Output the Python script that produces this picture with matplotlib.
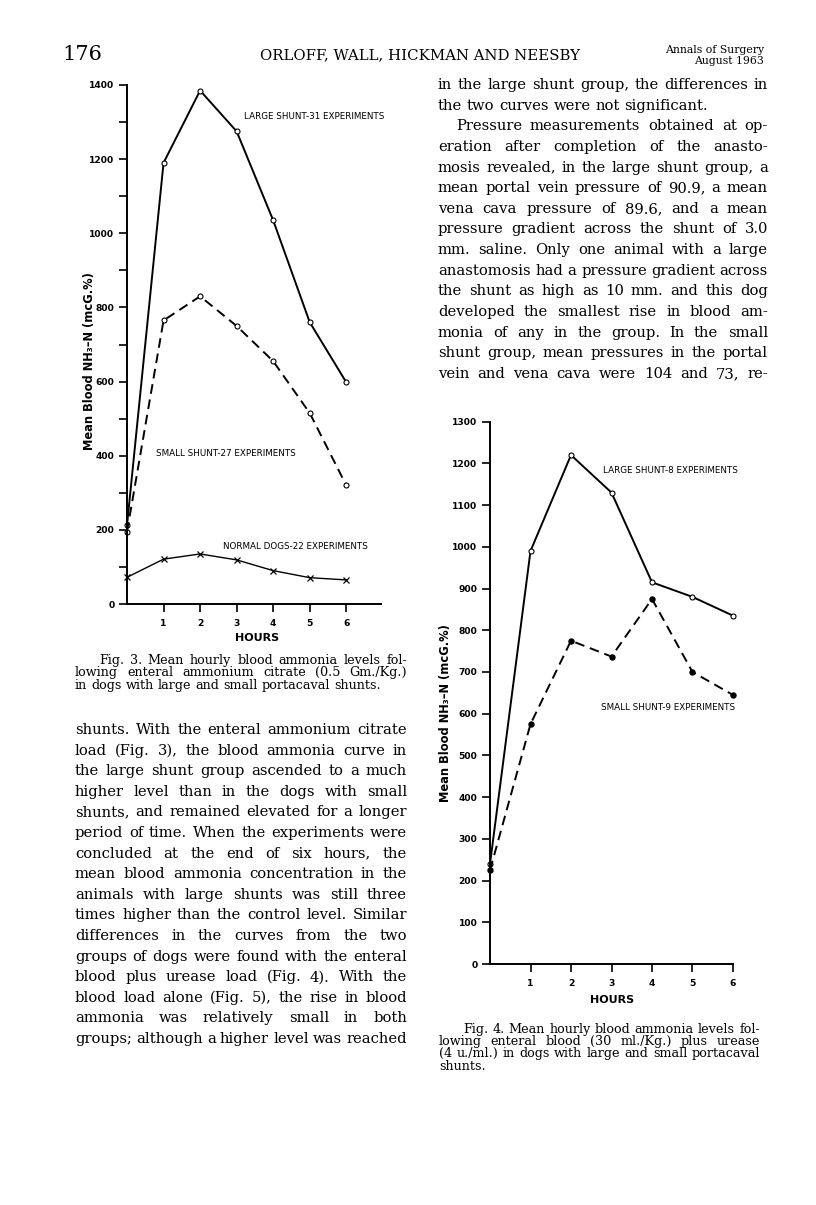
import matplotlib
matplotlib.use("Agg")
import matplotlib.pyplot as plt
from matplotlib.ticker import MultipleLocator

# ---- values ----
hours = [0, 1, 2, 3, 4, 5, 6]
hour_ticks = [1, 2, 3, 4, 5, 6]

# Fig. 3 - enteral ammonium citrate
f3_large = [212, 1190, 1385, 1275, 1035, 760, 598]
f3_small = [195, 765, 830, 750, 655, 515, 320]
f3_normal = [72, 121, 135, 119, 90, 71, 65]
f3_yticks = [0, 200, 400, 600, 800, 1000, 1200, 1400]

# Fig. 4 - enteral blood plus urease
f4_large = [240, 990, 1220, 1130, 915, 880, 835]
f4_small = [225, 575, 775, 737, 875, 700, 645]
f4_yticks = [0, 100, 200, 300, 400, 500, 600, 700, 800, 900, 1000, 1100, 1200, 1300]

ylabel = "Mean Blood NH\u2083\u2013N (mcG.%)"

# ---- page text ----
right_col = [
    "in the large shunt group, the differences in",
    "the two curves were not significant.",
    "Pressure measurements obtained at op-",
    "eration after completion of the anasto-",
    "mosis revealed, in the large shunt group, a",
    "mean portal vein pressure of 90.9, a mean",
    "vena cava pressure of 89.6, and a mean",
    "pressure gradient across the shunt of 3.0",
    "mm. saline. Only one animal with a large",
    "anastomosis had a pressure gradient across",
    "the shunt as high as 10 mm. and this dog",
    "developed the smallest rise in blood am-",
    "monia of any in the group. In the small",
    "shunt group, mean pressures in the portal",
    "vein and vena cava were 104 and 73, re-",
]
right_indent = [2]
right_ragged = [1]

left_col = [
    "shunts. With the enteral ammonium citrate",
    "load (Fig. 3), the blood ammonia curve in",
    "the large shunt group ascended to a much",
    "higher level than in the dogs with small",
    "shunts, and remained elevated for a longer",
    "period of time. When the experiments were",
    "concluded at the end of six hours, the",
    "mean blood ammonia concentration in the",
    "animals with large shunts was still three",
    "times higher than the control level. Similar",
    "differences in the curves from the two",
    "groups of dogs were found with the enteral",
    "blood plus urease load (Fig. 4). With the",
    "blood load alone (Fig. 5), the rise in blood",
    "ammonia was relatively small in both",
    "groups; although a higher level was reached",
]

cap3 = [
    "Fig. 3. Mean hourly blood ammonia levels fol-",
    "lowing enteral ammonium citrate (0.5 Gm./Kg.)",
    "in dogs with large and small portacaval shunts.",
]
cap4 = [
    "Fig. 4. Mean hourly blood ammonia levels fol-",
    "lowing enteral blood (30 ml./Kg.) plus urease",
    "(4 u./ml.) in dogs with large and small portacaval",
    "shunts.",
]

SERIF = "DejaVu Serif"
SANS = "DejaVu Sans"

W, H = 816, 1205
fig = plt.figure(figsize=(W / 100, H / 100), dpi=100)
fig.patch.set_facecolor("white")
renderer = fig.canvas.get_renderer()


def text_width(s, size):
    t = fig.text(0, 0, s, fontsize=size, family=SERIF)
    w = t.get_window_extent(renderer).width
    t.remove()
    return w


def block(lines, x0, x1, y0, step, size, indent=(), ragged=(), ind=18):
    # justified text, one word at a time, baselines in page pixels
    space = text_width("a a", size) - text_width("aa", size)
    for i, line in enumerate(lines):
        words = line.split()
        left = x0 + (ind if i in indent else 0)
        widths = [text_width(w, size) for w in words]
        if i in ragged or len(words) == 1:
            gap = space
        else:
            gap = (x1 - left - sum(widths)) / (len(words) - 1)
        x = left
        y = y0 + i * step
        for w, wd in zip(words, widths):
            fig.text(x / W, 1 - y / H, w, fontsize=size, family=SERIF,
                     ha="left", va="baseline")
            x += wd + gap


# header
fig.text(62 / W, 1 - 60 / H, "176", fontsize=15, family=SERIF, va="baseline")
fig.text(420 / W, 1 - 59 / H, "ORLOFF, WALL, HICKMAN AND NEESBY", fontsize=10.7,
         family=SERIF, ha="center", va="baseline")
fig.text(764 / W, 1 - 53 / H, "Annals of Surgery", fontsize=7.8, family=SERIF,
         ha="right", va="baseline")
fig.text(764 / W, 1 - 64 / H, "August 1963", fontsize=7.8, family=SERIF,
         ha="right", va="baseline")

block(right_col, 438, 768, 89, 20.64, 10.6, right_indent, right_ragged)
block(left_col, 75, 407, 734, 20.6, 10.6)
block(cap3, 75, 407, 664, 12.4, 9.2, indent=[0], ragged=[2], ind=24)
block(cap4, 439, 760, 1033, 12.2, 9.2, indent=[0], ragged=[3], ind=24)

note_font = dict(family=SANS, fontsize=6.3)


def style_axes(ax):
    for s in ["top", "right"]:
        ax.spines[s].set_visible(False)
    for s in ["left", "bottom"]:
        ax.spines[s].set_linewidth(1.4)
    ax.tick_params(which="both", direction="out", length=6, width=1.2, pad=3)
    for lab in ax.get_xticklabels() + ax.get_yticklabels():
        lab.set_fontfamily(SANS)
        lab.set_fontsize(6.6)
        lab.set_fontweight("bold")


dash = (0, (5, 3))
circ = dict(marker="o", ms=3.6, mfc="white", mec="black", mew=0.8)

# ---------- Fig. 3 ----------
ax3 = fig.add_axes([127 / W, 1 - 604 / H, 254 / W, 519 / H])
ax3.plot(hours, f3_large, color="black", lw=1.4, clip_on=False, **circ)
ax3.plot(hours, f3_small, color="black", lw=1.4, ls=dash, clip_on=False, **circ)
ax3.plot(hours, f3_normal, color="black", lw=1.0, marker="x", ms=5, mew=0.9,
         clip_on=False)
ax3.set_xlim(0, 6.95)
ax3.set_ylim(0, 1400)
ax3.set_yticks(f3_yticks)
ax3.yaxis.set_minor_locator(MultipleLocator(100))
ax3.set_xticks(hour_ticks)
style_axes(ax3)
ax3.tick_params(axis="x", pad=5)
ax3.text(3.2, 1314, "LARGE SHUNT-31 EXPERIMENTS", va="center", **note_font)
ax3.text(0.8, 405, "SMALL SHUNT-27 EXPERIMENTS", va="center", **note_font)
ax3.text(2.63, 154, "NORMAL DOGS-22 EXPERIMENTS", va="center", **note_font)
ax3.text(0.512, -0.066, "HOURS", transform=ax3.transAxes, ha="center",
         va="center", family=SANS, fontsize=8, fontweight="bold")
ax3.text(-0.146, 0.468, ylabel, transform=ax3.transAxes, rotation=90,
         ha="center", va="center", family=SANS, fontsize=8.3, fontweight="bold")

# ---------- Fig. 4 ----------
ax4 = fig.add_axes([490 / W, 1 - 964 / H, 243 / W, 542.3 / H])
ax4.plot(hours, f4_large, color="black", lw=1.4, clip_on=False, **circ)
ax4.plot(hours, f4_small, color="black", lw=1.4, ls=dash, marker="o", ms=3.6,
         mfc="black", mec="black", clip_on=False)
ax4.set_xlim(0, 6)
ax4.set_ylim(0, 1300)
ax4.set_yticks(f4_yticks)
ax4.set_xticks(hour_ticks)
style_axes(ax4)
ax4.tick_params(axis="x", pad=5)
ax4.text(2.8, 1182, "LARGE SHUNT-8 EXPERIMENTS", va="center", **note_font)
ax4.text(2.75, 614, "SMALL SHUNT-9 EXPERIMENTS", va="center", **note_font)
ax4.text(0.502, -0.066, "HOURS", transform=ax4.transAxes, ha="center",
         va="center", family=SANS, fontsize=8, fontweight="bold")
ax4.text(-0.185, 0.463, ylabel, transform=ax4.transAxes, rotation=90,
         ha="center", va="center", family=SANS, fontsize=8.3, fontweight="bold")

fig.savefig("out.png", dpi=100, facecolor="white")
